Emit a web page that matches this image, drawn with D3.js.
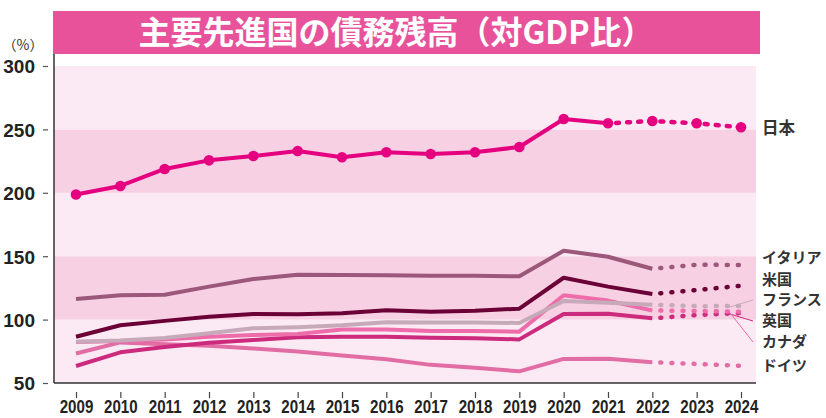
<!DOCTYPE html>
<html>
<head>
<meta charset="utf-8">
<script src="https://cdn.jsdelivr.net/npm/d3@7"></script>
<style>
  body { margin: 0; background: #fff; }
  svg { display: block; }
</style>
</head>
<body>
<div id="viz"></div>
<script>
const width = 826;
const height = 418;
const margin = {top: 54, right: 70, bottom: 35, left: 54};

// data (% of GDP)
const years = [2009, 2010, 2011, 2012, 2013, 2014, 2015, 2016, 2017, 2018, 2019, 2020, 2021, 2022, 2023, 2024];
const japan   = [198.7, 205.4, 218.8, 225.6, 229.0, 233.0, 228.0, 232.0, 230.6, 232.0, 236.1, 258.2, 254.8, 256.6, 254.8, 251.7];
const italy   = [116.2, 119.2, 119.6, 126.0, 132.0, 135.4, 135.2, 135.0, 134.6, 134.5, 134.2, 154.3, 149.6, 140.1, 143.3, 143.0];
const usa     = [86.5, 95.5, 99.0, 102.3, 104.4, 104.2, 105.0, 107.4, 106.2, 107.0, 108.6, 133.0, 126.0, 120.2, 123.3, 126.7];
const france  = [82.6, 83.6, 85.5, 89.2, 93.2, 94.0, 95.5, 98.0, 97.8, 97.8, 97.3, 114.7, 113.2, 111.8, 110.6, 110.7];
const canada  = [82.4, 83.2, 84.4, 86.5, 87.9, 88.6, 92.2, 92.2, 91.0, 91.0, 90.5, 119.2, 115.0, 107.2, 106.8, 106.2];
const uk      = [63.4, 74.2, 78.4, 81.8, 83.9, 86.0, 86.5, 86.5, 85.7, 85.2, 84.4, 104.4, 104.6, 101.0, 103.6, 105.2];
const germany = [73.3, 82.0, 80.5, 79.4, 77.3, 74.8, 71.6, 68.8, 64.3, 62.0, 59.2, 69.0, 69.2, 66.4, 65.0, 63.6];

const yTicks = [50, 100, 150, 200, 250, 300];

const series = [
  {name: 'ドイツ',   values: germany, color: '#e26ca4', lastActual: 2022, labelY: 366},
  {name: '英国',     values: uk,      color: '#cc2a7c', lastActual: 2022, labelY: 321, leader: true},
  {name: 'カナダ',   values: canada,  color: '#ee6ca9', lastActual: 2022, labelY: 342, leader: true},
  {name: 'フランス', values: france,  color: '#c6aab9', lastActual: 2022, labelY: 300, leader: true},
  {name: '米国',     values: usa,     color: '#6b0036', lastActual: 2022, labelY: 280},
  {name: 'イタリア', values: italy,   color: '#9b587a', lastActual: 2022, labelY: 258},
  {name: '日本',     values: japan,   color: '#e4007f', lastActual: 2021, labelY: 128, dots: true}
];

const svg = d3.select('#viz')
  .append('svg')
  .attr('width', width)
  .attr('height', height);

const x = d3.scaleLinear()
  .domain([2009, 2024])
  .range([76, 741]);

const y = d3.scaleLinear()
  .domain([50, 300])
  .range([383, 66]);

const plotRight = 756;

// background bands
const bands = d3.range(50, 300, 50);
svg.append('g')
  .selectAll('rect')
  .data(bands)
  .join('rect')
    .attr('x', margin.left)
    .attr('y', d => y(d + 50))
    .attr('width', plotRight - margin.left)
    .attr('height', d => y(d) - y(d + 50))
    .attr('fill', (d, i) => (i % 2 === 1) ? '#f7d0e3' : '#fbeaf3');

// title band
svg.append('rect')
  .attr('x', 53)
  .attr('y', 11)
  .attr('width', 707)
  .attr('height', 43)
  .attr('fill', '#e8529a');

svg.append('text')
  .attr('x', 396)
  .attr('y', 44)
  .attr('text-anchor', 'middle')
  .style('font-family', '"Noto Sans CJK JP", sans-serif')
  .style('font-weight', 'bold')
  .style('font-size', '32px')
  .attr('fill', '#fff')
  .text('主要先進国の債務残高（対GDP比）');

svg.append('text')
  .attr('x', 23)
  .attr('y', 50)
  .attr('text-anchor', 'middle')
  .style('font-family', '"Noto Sans CJK JP", sans-serif')
  .style('font-size', '14px')
  .attr('fill', '#333')
  .text('（%）');

// y axis
const yAxis = svg.append('g')
  .attr('transform', `translate(${margin.left}, 0)`)
  .call(d3.axisLeft(y).tickValues(yTicks).tickSize(0).tickPadding(0));
yAxis.select('.domain').remove();
yAxis.selectAll('.tick text')
  .attr('x', -19)
  .attr('dy', '0.36em')
  .style('font-family', '"Liberation Sans Narrow", sans-serif')
  .style('font-weight', 'bold')
  .style('font-size', '19px')
  .attr('fill', '#222');
yAxis.selectAll('.tick').append('line')
  .attr('x1', -11).attr('x2', -6)
  .attr('stroke', '#555').attr('stroke-width', 1.2);

svg.append('line')
  .attr('x1', margin.left).attr('x2', margin.left)
  .attr('y1', 54).attr('y2', y(50))
  .attr('stroke', '#333').attr('stroke-width', 1.5);

// x axis
const xAxis = svg.append('g')
  .attr('transform', `translate(0, ${y(50)})`)
  .call(d3.axisBottom(x).tickValues(years).tickFormat(d3.format('d')).tickSize(0).tickPadding(0));
xAxis.select('.domain').remove();
xAxis.selectAll('.tick line').remove();
xAxis.selectAll('.tick').append('line')
  .attr('y1', 9).attr('y2', 15)
  .attr('stroke', '#444').attr('stroke-width', 1.2);
xAxis.selectAll('.tick text')
  .attr('y', 30)
  .attr('dy', 0)
  .attr('transform', 'scale(0.84,1)')
  .style('font-family', '"Liberation Sans Narrow", sans-serif')
  .style('font-weight', 'bold')
  .style('font-size', '18px')
  .attr('fill', '#222');

svg.append('line')
  .attr('x1', margin.left).attr('x2', plotRight)
  .attr('y1', y(50)).attr('y2', y(50))
  .attr('stroke', '#333').attr('stroke-width', 1.5);

// lines
const line = d3.line()
  .x(d => x(d.year))
  .y(d => y(d.value));

const linesG = svg.append('g');

series.forEach(s => {
  const pts = years.map((yr, i) => ({year: yr, value: s.values[i]}));
  const actual = pts.filter(d => d.year <= s.lastActual);
  const forecast = pts.filter(d => d.year >= s.lastActual);

  linesG.append('path')
    .attr('d', line(actual))
    .attr('fill', 'none')
    .attr('stroke', s.color)
    .attr('stroke-width', 4)
    .attr('stroke-linejoin', 'round');

  linesG.append('path')
    .attr('d', line(forecast))
    .attr('fill', 'none')
    .attr('stroke', s.color)
    .attr('stroke-width', 4.5)
    .attr('stroke-linecap', 'round')
    .attr('stroke-dasharray', s.dots ? '3 8.1' : '1 10.1')
    .attr('stroke-dashoffset', -8);

  if (s.dots) {
    linesG.selectAll(null)
      .data(pts)
      .join('circle')
        .attr('cx', d => x(d.year))
        .attr('cy', d => y(d.value))
        .attr('r', 5.3)
        .attr('fill', s.color);
  }

  const last = s.values[s.values.length - 1];
  if (s.leader) {
    svg.append('line')
      .attr('x1', x(2023.75))
      .attr('y1', y(last) + 1)
      .attr('x2', 753)
      .attr('y2', s.labelY)
      .attr('stroke', s.color)
      .attr('stroke-width', 1);
  }

  svg.append('text')
    .attr('x', 762)
    .attr('y', s.labelY)
    .attr('dy', '0.36em')
    .style('font-family', '"Noto Sans CJK JP", sans-serif')
    .style('font-weight', 'bold')
    .style('font-size', s.name === '日本' ? '16.5px' : '15px')
    .attr('fill', '#333')
    .text(s.name);
});
</script>
</body>
</html>
